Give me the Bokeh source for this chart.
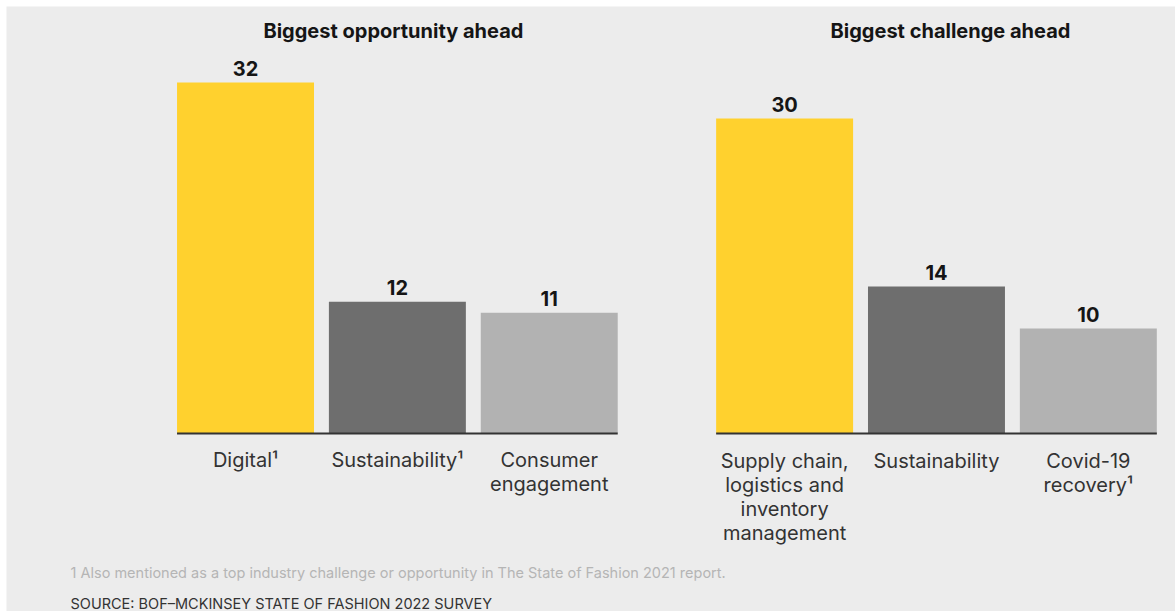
from bokeh.plotting import figure
from bokeh.models import FactorRange, Range1d, ColumnDataSource, Label
from bokeh.core.properties import value
from bokeh.embed import file_html
from bokeh.resources import INLINE

# ---- data ----
opp_title = "Biggest opportunity ahead"
chal_title = "Biggest challenge ahead"
opp_cats = ["Digital¹", "Sustainability¹", "Consumer\nengagement"]
opp_vals = [32, 12, 11]
chal_cats = ["Supply chain,\nlogistics and\ninventory\nmanagement", "Sustainability", "Covid-19\nrecovery¹"]
chal_vals = [30, 14, 10]
bar_colors = ["#FFD12E", "#6E6E6E", "#B2B2B2"]
footnote = "1 Also mentioned as a top industry challenge or opportunity in The State of Fashion 2021 report."
source_note = "SOURCE: BOF–MCKINSEY STATE OF FASHION 2022 SURVEY"

BG = "#ECECEC"
FONT = value("Inter")

opp_x = [("opp", c) for c in opp_cats]
chal_x = [("chal", c) for c in chal_cats]

# a blank leading slot keeps the left-hand margin of the original layout
xr = FactorRange(factors=[("opp", "")] + opp_x + chal_x, factor_padding=0, group_padding=0.55,
                 range_padding=0.074, range_padding_units="absolute")
yl = Range1d(-16.23, 38.92)
yr = Range1d(-16.95, 40.67)

p = figure(width=1169, height=605, x_range=xr, y_range=yl,
           output_backend="svg", toolbar_location=None,
           x_axis_location=None, y_axis_location=None,
           margin=(6, 0, 0, 6),
           min_border_left=0, min_border_right=0, min_border_top=0, min_border_bottom=0,
           background_fill_color=BG, border_fill_color=BG, outline_line_color=None)
p.extra_y_ranges = {"chal": yr}
p.grid.visible = False

src_opp = ColumnDataSource(dict(x=opp_x, top=opp_vals, color=bar_colors,
                                lab=[str(v) for v in opp_vals], cat=opp_cats, zero=[0] * 3))
src_chal = ColumnDataSource(dict(x=chal_x, top=chal_vals, color=bar_colors,
                                 lab=[str(v) for v in chal_vals], cat=chal_cats, zero=[0] * 3))

for src, rn in ((src_opp, "default"), (src_chal, "chal")):
    p.vbar(x="x", top="top", width=0.902, source=src, fill_color="color", line_color=None, y_range_name=rn)
    p.text(x="x", y="top", text="lab", source=src, y_range_name=rn,
           text_align="center", text_baseline="alphabetic", y_offset=-14,
           text_font=FONT, text_font_style="bold", text_font_size="20px", text_color="#151515")
    p.text(x="x", y="zero", text="cat", source=src, y_range_name=rn,
           text_align="center", text_baseline="top", y_offset=15, text_line_height=1.0,
           text_font=FONT, text_font_size="20px", text_color="#333333")

# baselines under each group
p.segment(x0=[("opp", opp_cats[0], -0.451)], x1=[("opp", opp_cats[-1], 0.451)], y0=[0], y1=[0],
          line_color="#333333", line_width=2)
p.segment(x0=[("chal", chal_cats[0], -0.451)], x1=[("chal", chal_cats[-1], 0.451)], y0=[0], y1=[0],
          line_color="#333333", line_width=2, y_range_name="chal")

# panel titles
p.text(x=[("opp", opp_cats[1])], y=[yl.end], text=[opp_title], x_offset=-4, y_offset=12,
       text_align="center", text_baseline="top",
       text_font=FONT, text_font_style="bold", text_font_size="20px", text_color="#151515")
p.text(x=[("chal", chal_cats[1])], y=[yr.end], text=[chal_title], x_offset=14, y_offset=12,
       text_align="center", text_baseline="top", y_range_name="chal",
       text_font=FONT, text_font_style="bold", text_font_size="20px", text_color="#151515")

# footnotes
p.add_layout(Label(x=64, y=39, x_units="screen", y_units="screen", text=footnote,
                   text_baseline="middle", text_font="Inter", text_font_size="14.5px", text_color="#B5B5B5"))
p.add_layout(Label(x=64, y=8, x_units="screen", y_units="screen", text=source_note,
                   text_baseline="middle", text_font="Inter", text_font_size="14.5px", text_color="#333333"))

open("out.html", "w").write(file_html(p, INLINE))
